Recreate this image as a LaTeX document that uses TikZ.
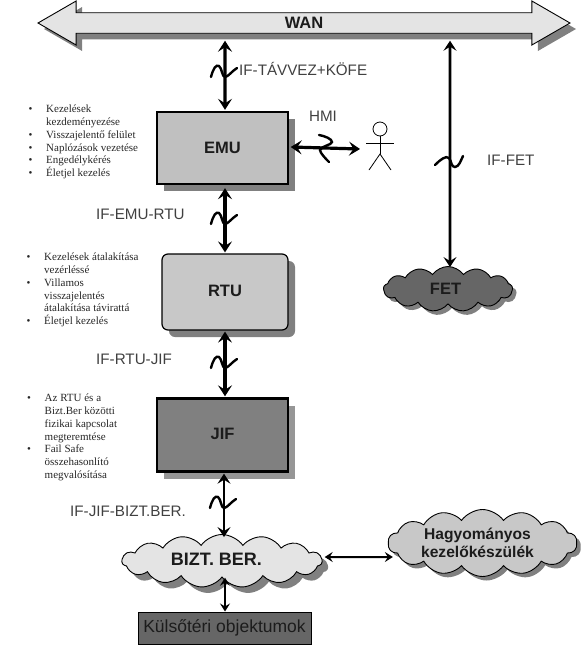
\documentclass[tikz,border=0pt]{standalone}
\usepackage{fontspec}
\setmainfont{Liberation Sans}
\newfontfamily\listfont{Liberation Serif}
\usetikzlibrary{shapes.symbols,shapes.arrows,shadows,arrows.meta}
\definecolor{shadowgray}{HTML}{808080}
\definecolor{jifshadow}{HTML}{969696}
\definecolor{emufill}{HTML}{C0C0C0}
\definecolor{rtufill}{HTML}{C8C8C8}
\definecolor{jiffill}{HTML}{808080}
\definecolor{darkfill}{HTML}{666666}
\definecolor{lightfill}{HTML}{E4E4E4}
\definecolor{inktext}{HTML}{1C1C1C}
\newcommand{\B}{\hbox to 17.5pt{•\hfil}}
\newcommand{\C}{\hspace*{17.5pt}}
\tikzset{
  shad/.style={drop shadow={shadow xshift=#1pt,shadow yshift=-#1pt,fill=shadowgray,opacity=1}},
  boxlabel/.style={font=\fontsize{16.5}{18}\selectfont\bfseries,text=inktext},
  iflabel/.style={font=\fontsize{15.2}{17}\selectfont,text=black!75,inner sep=0pt},
  listtext/.style={font=\listfont\fontsize{11}{12.75}\selectfont,align=left,anchor=north west,inner sep=0pt,text=black!85},
  emubox/.style={draw=black,line width=2.4pt,shad=7,boxlabel},
  cloudbox/.style={cloud,cloud ignores aspect,draw=black,line width=0.9pt,inner sep=0pt,boxlabel},
  bigbi/.style={{Stealth[length=11pt,width=14pt,inset=4.5pt]}-{Stealth[length=11pt,width=14pt,inset=4.5pt]},line width=3.2pt},
  midbi/.style={{Stealth[length=10pt,width=13pt,inset=4pt]}-{Stealth[length=10pt,width=13pt,inset=4pt]},line width=2.8pt},
  smallbi/.style={{Stealth[length=8pt,width=10pt,inset=3pt]}-{Stealth[length=8pt,width=10pt,inset=3pt]},line width=2pt},
  squig/.style={line width=2.4pt,line cap=round},
  figure/.style={line width=0.8pt}
}
\newcommand{\squiggle}[2]{\draw[squig] (#1-14,#2) .. controls (#1-12,#2-8) and (#1-9,#2-13) .. (#1-6,#2-11) .. controls (#1-3,#2-9) and (#1-3,#2) .. (#1,#2) .. controls (#1+3,#2) and (#1+7,#2-6) .. (#1+12,#2-9);}
\begin{document}
\begin{tikzpicture}[x=1pt,y=-1pt]
\useasboundingbox (0,0) rectangle (584,646);
\node[double arrow,double arrow tip angle=60,double arrow head extend=7pt,double arrow head indent=0pt,
  minimum height=532pt,minimum width=44pt,inner sep=0pt,draw=black,line width=0.9pt,fill=lightfill,shad=6,boxlabel] (wan) at (304,23) {WAN};
\node[emubox,fill=emufill,minimum width=131pt,minimum height=72pt,inner sep=0pt] (emu) at (222.5,148) {\raisebox{1pt}{EMU}};
\node[emubox,fill=rtufill,rounded corners=6pt,line width=1.2pt,minimum width=126pt,minimum height=76pt,inner sep=0pt] (rtu) at (225,292) {\raisebox{3pt}{RTU}};
\node[draw=black,line width=2.4pt,drop shadow={shadow xshift=7pt,shadow yshift=-7pt,fill=jifshadow,opacity=1},boxlabel,fill=jiffill,minimum width=131pt,minimum height=73pt,inner sep=0pt] (jif) at (222.5,435) {\raisebox{2pt}{JIF}};
\node[draw=black,line width=1pt,fill=darkfill,minimum width=173pt,minimum height=32pt,inner sep=0pt,font=\fontsize{17.5}{20}\selectfont,text=inktext] (kulso) at (224.5,628) {Külsőtéri objektumok};
\node[cloudbox,fill=darkfill,shad=4,cloud puffs=13,cloud puff arc=110,minimum width=129pt,minimum height=45pt] (fet) at (448,289) {FET\hspace*{5pt}};
\node[cloudbox,fill=lightfill,shad=6,cloud puffs=15,cloud puff arc=110,minimum width=200pt,minimum height=53pt,font=\fontsize{18}{20}\selectfont\bfseries] (bizt) at (222,561) {\raisebox{3pt}{BIZT. BER.}\hspace*{11pt}};
\node[cloudbox,fill=rtufill,shad=4,cloud puffs=14,cloud puff arc=110,minimum width=189pt,minimum height=67pt,align=center,font=\fontsize{15.6}{18.5}\selectfont\bfseries] (hagy) at (482.5,543) {Hagyományos\hspace*{10pt}\\kezelőkészülék\hspace*{10pt}};
% actor
\node[circle,draw=black,figure,minimum size=14pt,inner sep=0pt] (actor) at (380,129) {};
\coordinate (hip) at (380,154);
\draw[figure] (actor.south) -- (hip);
\draw[figure] (366,143) -- (394,143);
\draw[figure] (369,170) -- (hip) -- (391,170);
% connectors
\draw[bigbi] ([xshift=-79pt,yshift=-7pt]wan.south) -- ([xshift=2.5pt,yshift=1pt]emu.north);
\draw[bigbi] ([xshift=2.5pt,yshift=-3pt]emu.south) -- ([yshift=1pt]rtu.north);
\draw[bigbi] ([yshift=-1pt]rtu.south) -- ([xshift=2.5pt,yshift=1pt]jif.north);
\draw[midbi] ([xshift=1.5pt,yshift=-1pt]jif.south) -- ([xshift=2pt,yshift=-3pt]bizt.north);
\draw[smallbi] ([xshift=3pt]bizt.south) -- ([xshift=.5pt]kulso.north);
\draw[smallbi] ([xshift=2pt,yshift=4pt]bizt.east) -- ([xshift=5pt,yshift=-14pt]hagy.west);
\draw[bigbi] ([xshift=1.5pt,yshift=1pt]emu.east) -- ([xshift=-20pt,yshift=-20pt]actor.center);
\draw[midbi] ([xshift=146pt,yshift=-7pt]wan.south) -- ([xshift=2pt,yshift=-1pt]fet.north);
% breaks
\squiggle{225}{77}
\squiggle{225}{224}
\squiggle{225}{368}
\squiggle{224}{508}
\draw[squig] (435,165) .. controls (440,160) and (446,155) .. (449,158) .. controls (452,162) and (451,167) .. (455,167) .. controls (459,167) and (461,160) .. (463,156);
\draw[squig] (319,135) .. controls (325,136) and (332,139) .. (332,142) .. controls (332,145) and (321,146) .. (320,150) .. controls (320,153) and (326,159) .. (329,162);
% labels
\node[iflabel,anchor=west] (l1) at (239,69) {IF-TÁVVEZ+KÖFE};
\node[iflabel] (l2) at (323,116) {HMI};
\node[iflabel,anchor=west] (l3) at (487,160) {IF-FET};
\node[iflabel,anchor=west] (l4) at (96,214) {IF-EMU-RTU};
\node[iflabel,anchor=west] (l5) at (96,359) {IF-RTU-JIF};
\node[iflabel,anchor=west] (l6) at (70,511) {IF-JIF-BIZT.BER.};
% lists
\node[listtext] (list1) at (28.5,105) {\B Kezelések\\\C kezdeményezése\\\B Visszajelentő felület\\\B Naplózások vezetése\\\B Engedélykérés\\\B Életjel kezelés};
\node[listtext] (list2) at (26.5,253) {\B Kezelések átalakítása\\\C vezérléssé\\\B Villamos\\\C visszajelentés\\\C átalakítása távirattá\\\B Életjel kezelés};
\node[listtext] (list3) at (27,394) {\B Az RTU és a\\\C Bizt.Ber közötti\\\C fizikai kapcsolat\\\C megteremtése\\\B Fail Safe\\\C összehasonlító\\\C megvalósítása};
\end{tikzpicture}
\end{document}
